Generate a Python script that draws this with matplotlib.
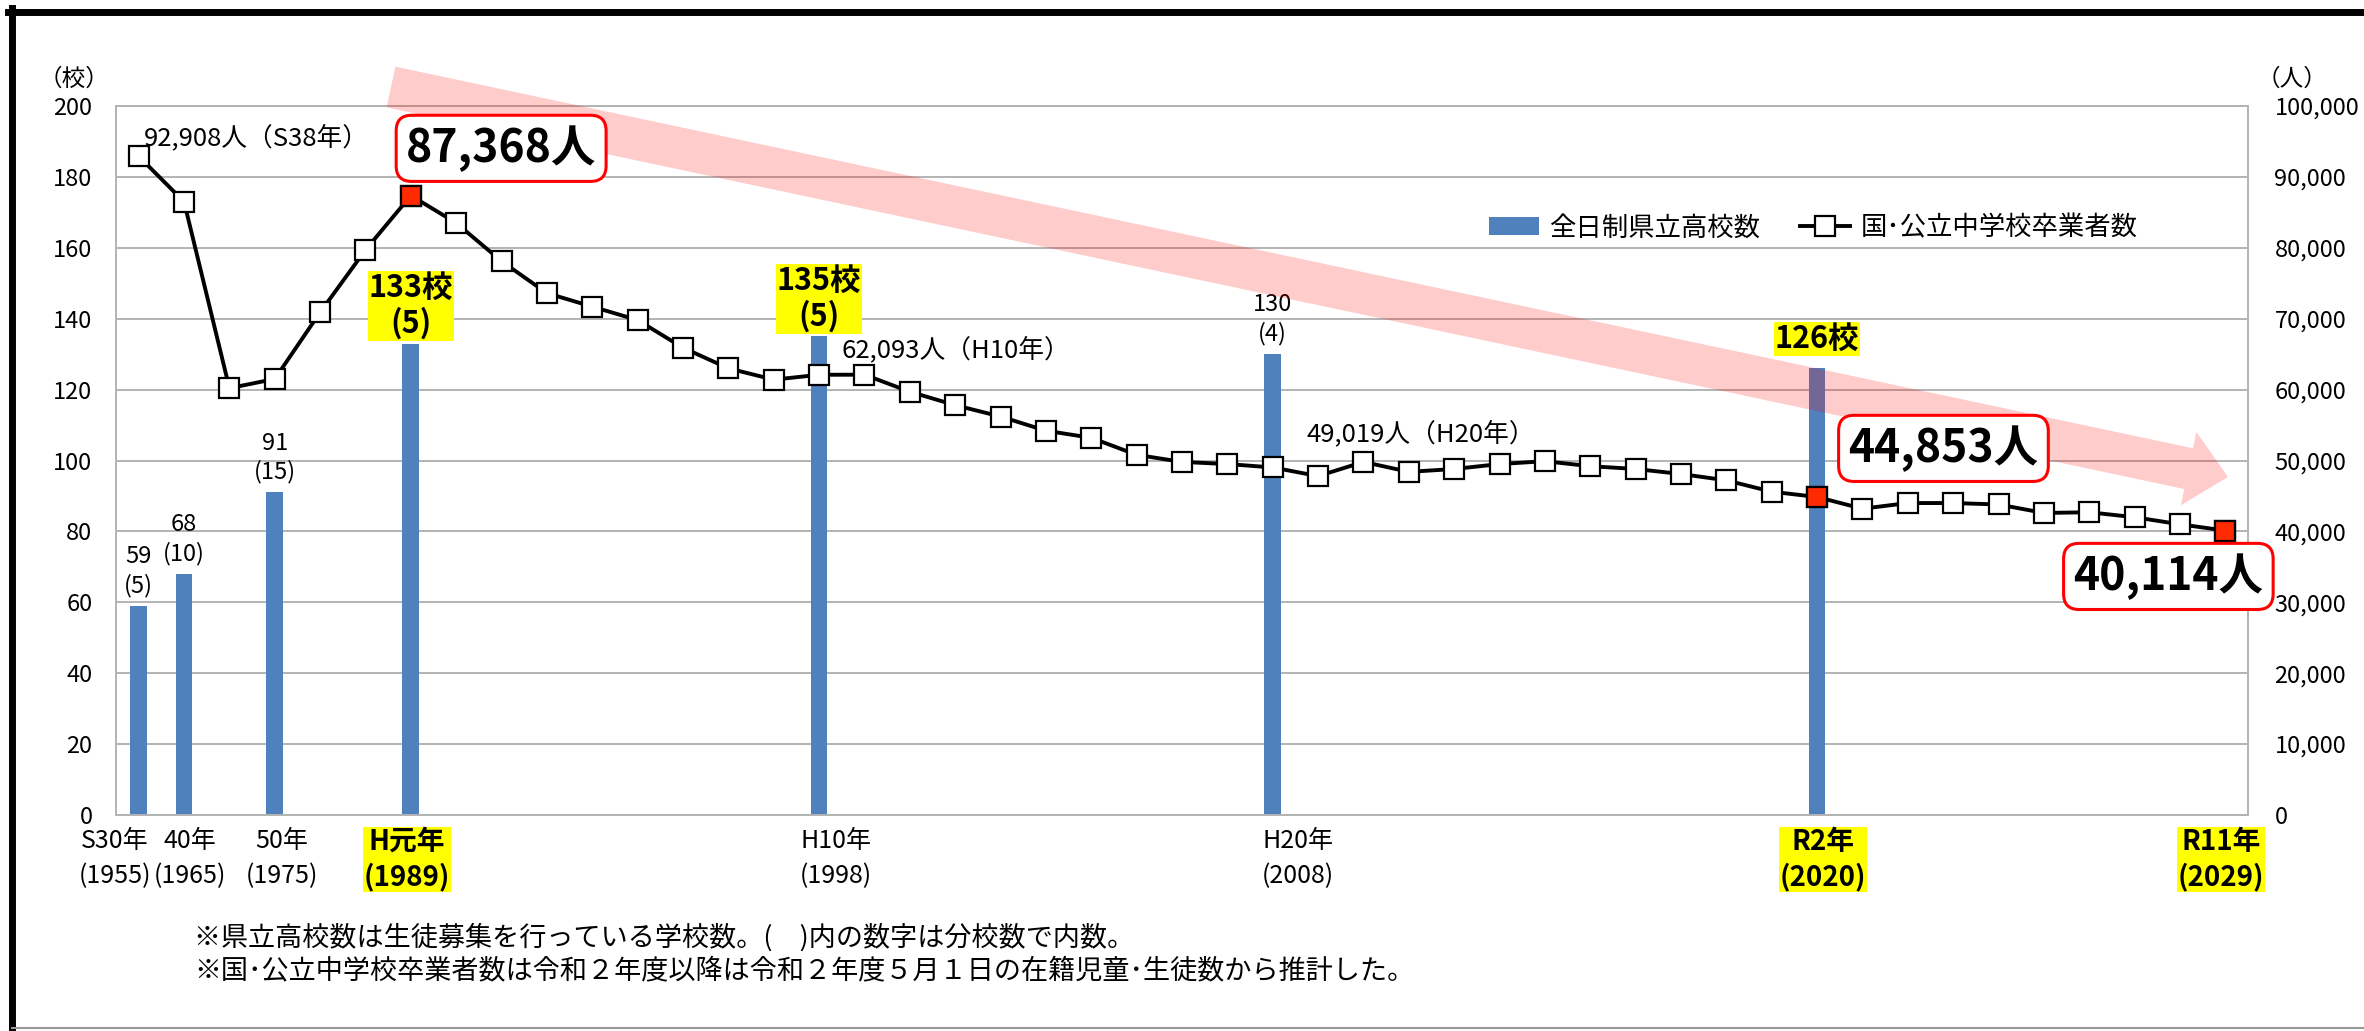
import matplotlib.pyplot as plt
from matplotlib.ticker import FuncFormatter, MultipleLocator
from matplotlib.lines import Line2D
from matplotlib.patches import FancyArrowPatch
from matplotlib.transforms import ScaledTranslation

plt.rcParams['font.family'] = ['Noto Sans CJK JP', 'DejaVu Sans']

# category axis: 5-year steps first, then every year from H1 (1989)
# (the first point of the line is the S38 value)
cat_years = [1955, 1965, 1970, 1975, 1980, 1985] + list(range(1989, 2030))

# national/public junior high school graduates (right axis, persons)
grads = [92908, 86500, 60200, 61500, 70900, 79700, 87368, 83500, 78100, 73600,
         71700, 69800, 65900, 63000, 61400, 62093, 62100, 59700, 57800, 56200,
         54200, 53200, 50800, 49800, 49500, 49019, 47800, 49800, 48400, 48800,
         49500, 49900, 49200, 48800, 48100, 47200, 45600, 44853, 43200, 44000,
         44000, 43800, 42600, 42700, 42000, 41000, 40114]

# full-time prefectural high schools (left axis), branch schools in ()
bar_years = [1955, 1965, 1975, 1989, 1998, 2008, 2020]
schools = [59, 68, 91, 133, 135, 130, 126]
branches = [5, 10, 15, 5, 5, 4, None]
bar_hl = [False, False, False, True, True, False, True]

tick_years = [1955, 1965, 1975, 1989, 1998, 2008, 2020, 2029]
tick_labels = ['S30年\n(1955)', '40年\n(1965)', '50年\n(1975)', 'H元年\n(1989)',
               'H10年\n(1998)', 'H20年\n(2008)', 'R2年\n(2020)', 'R11年\n(2029)']
tick_hl = [False, False, False, True, False, False, True, True]
tick_shift = [-17, 4, 5, -3, 12, 18, 4, -3]   # points, as placed in the original

note_years = [1955, 1998, 2008, 2020]
note_texts = ['92,908人（S38年）', '62,093人（H10年）', '49,019人（H20年）', '44,853人（R2年）']
note_offsets = [(4, 13), (16, 18), (24, 24), (24, 20)]

box_years = [1989, 2020, 2029]
box_texts = ['87,368人', '44,853人', '40,114人']
box_offsets = [(65, 34), (91, 35), (-41, -33)]

notes_foot = ['※県立高校数は生徒募集を行っている学校数。(　)内の数字は分校数で内数。',
              '※国･公立中学校卒業者数は令和２年度以降は令和２年度５月１日の在籍児童･生徒数から推計した。']

BLUE = '#4F81BD'
GRID = '#B3B3B3'

fig = plt.figure(figsize=(23.64, 10.31), dpi=100)
ax = fig.add_axes([116 / 2364, 1 - 815 / 1031, 2132 / 2364, 709 / 1031])
ax2 = ax.twinx()

x = list(range(len(cat_years)))
bx = [cat_years.index(y) for y in bar_years]

# bars
ax.bar(bx, schools, width=0.37, color=BLUE, zorder=2, label='全日制県立高校数')
ax.set_xlim(-0.5, len(cat_years) - 0.5)
ax.set_ylim(0, 200)
ax.yaxis.set_major_locator(MultipleLocator(20))
ax.grid(axis='y', color=GRID, lw=1.4, zorder=0)
ax.set_axisbelow(True)
for s in ax.spines.values():
    s.set_color(GRID)
    s.set_linewidth(1.4)

# bar labels
for xi, v, b, hl in zip(bx, schools, branches, bar_hl):
    if hl:
        t = f'{v}校' + (f'\n({b})' if b else '')
        ax.annotate(t, (xi, v), xytext=(0, 27 if b else 21), textcoords='offset points',
                    ha='center', va='center', multialignment='center', linespacing=1.12,
                    fontsize=22, fontweight='bold',
                    bbox=dict(boxstyle='square,pad=0.03', fc='yellow', ec='none'))
    else:
        ax.annotate(f'{v}\n({b})', (xi, v), xytext=(0, 25), textcoords='offset points',
                    ha='center', va='center', multialignment='center', linespacing=1.3,
                    fontsize=17)

# line
ax2.plot(x, grads, color='black', lw=2.8, marker='s', ms=14, mfc='white',
         mec='black', mew=1.6, zorder=3, label='国･公立中学校卒業者数')
hx = [cat_years.index(y) for y in box_years]
ax2.plot(hx, [grads[i] for i in hx], ls='none', marker='s', ms=14, mfc='#FF2A00',
         mec='black', mew=1.6, zorder=4)
ax2.set_ylim(0, 100000)
ax2.yaxis.set_major_locator(MultipleLocator(10000))
ax2.yaxis.set_major_formatter(FuncFormatter(lambda v, p: f'{int(v):,}'))
for s in ax2.spines.values():
    s.set_visible(False)

ax.tick_params(axis='y', length=0, labelsize=17, pad=17)
ax2.tick_params(axis='y', length=0, labelsize=17, pad=19)

ax.set_xticks([cat_years.index(y) for y in tick_years], tick_labels)
ax.tick_params(axis='x', length=0, pad=9)
for lab, hl, dx in zip(ax.get_xticklabels(), tick_hl, tick_shift):
    lab.set_transform(lab.get_transform() + ScaledTranslation(dx / 72, 0, fig.dpi_scale_trans))
    if hl:
        lab.set_linespacing(1.3)
        lab.set_fontsize(20)
        lab.set_fontweight('bold')
        lab.set_bbox(dict(boxstyle='square,pad=0.03', fc='yellow', ec='none'))
    else:
        lab.set_linespacing(1.5)
        lab.set_fontsize(18)

# small callouts
for yr, t, off in zip(note_years, note_texts, note_offsets):
    i = cat_years.index(yr)
    ax2.annotate(t, (i, grads[i]), xytext=off, textcoords='offset points',
                 ha='left', va='center', fontsize=18.5, zorder=4)

# decreasing-trend arrow (semi-transparent, over bars and grid)
arrow = FancyArrowPatch((391 / 2364, 1 - 87 / 1031), (2228 / 2364, 1 - 477 / 1031),
                        transform=fig.transFigure,
                        arrowstyle='simple,head_length=2.9,head_width=5.4,tail_width=3.0',
                        mutation_scale=10, color='red', alpha=0.2, lw=0,
                        shrinkA=0, shrinkB=0, zorder=1.5)
ax2.add_artist(arrow)
arrow.set_clip_on(False)

# boxed callouts
for yr, t, off in zip(box_years, box_texts, box_offsets):
    i = cat_years.index(yr)
    ax2.annotate(t, (i, grads[i]), xytext=off, textcoords='offset points',
                 ha='center', va='center', fontsize=32, fontweight='bold', zorder=6,
                 bbox=dict(boxstyle='round,pad=0.22,rounding_size=0.35', fc='white',
                           ec='#FF0000', lw=2.2))

# legend
h1, l1 = ax.get_legend_handles_labels()
h2, l2 = ax2.get_legend_handles_labels()
fig.legend(h1 + h2, l1 + l2, loc='center', bbox_to_anchor=(0.767, 0.779), ncol=2,
           frameon=False, fontsize=19, handlelength=1.9, handletextpad=0.4,
           columnspacing=1.5)

# axis units
fig.text(74 / 2364, 1 - 79 / 1031, '（校）', ha='center', va='center', fontsize=17)
fig.text(2292 / 2364, 1 - 79 / 1031, '（人）', ha='center', va='center', fontsize=17)

# footnotes
for k, t in enumerate(notes_foot):
    fig.text(194 / 2364, 1 - (938 + 34 * k) / 1031, t, ha='left', va='center', fontsize=19.5)

# frame
fig.add_artist(Line2D([8 / 2364, 1], [1 - 11.5 / 1031] * 2, color='black', lw=5,
                      transform=fig.transFigure))
fig.add_artist(Line2D([11.5 / 2364] * 2, [1 - 8 / 1031, 3 / 1031], color='black', lw=5,
                      transform=fig.transFigure))
fig.add_artist(Line2D([11.5 / 2364, 1], [3 / 1031] * 2, color='#999999', lw=1.5,
                      transform=fig.transFigure))

fig.savefig('out.png', dpi=100)
